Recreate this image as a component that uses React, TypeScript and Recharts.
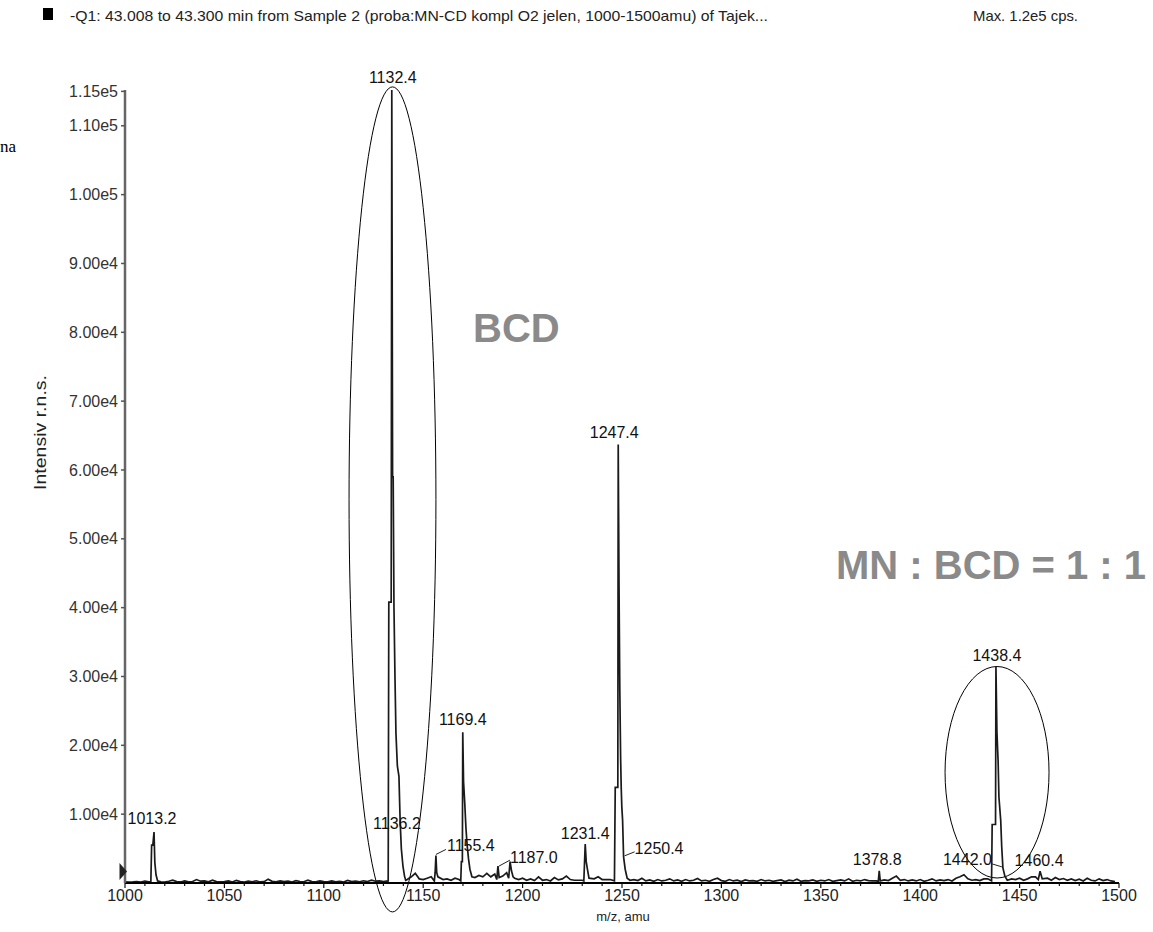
import React from "react";
import {
  LineChart,
  Line,
  XAxis,
  YAxis,
  ReferenceArea,
  ReferenceDot,
} from "recharts";

// baseline noise, one value every 2 amu from 1000 to 1500 (cps)
const noiseStart = 1000;
const noiseStep = 2;
const noise = [
  180, 120, 150, 200, 140, 260, 160, 300, 220, 180, 120, 250, 400, 200, 150, 300, 180, 220, 500, 260, 300, 180, 420, 200, 160,
  220, 300, 150, 380, 200, 140, 260, 180, 320, 150, 200, 560, 240, 180, 300, 200, 260, 150, 340, 220, 180, 420, 200, 160, 300,
  200, 160, 300, 180, 240, 150, 380, 200, 260, 180, 320, 220, 400, 260, 300, 200, 500, 300, 260, 400, 600, 500, 900, 1400, 600,
  500, 700, 900, 600, 1200, 500, 600, 400, 700, 500, 600, 600, 500, 800, 1100, 900, 1400, 900, 1300, 900, 1000, 1500, 1500, 700,
  500, 700, 400, 600, 350, 900, 400, 500, 300, 800, 450, 600, 1000, 500, 400, 400, 400, 700, 500, 600, 900, 500, 500, 500, 500,
  500, 500, 600, 400, 500, 350, 700, 300, 450, 250, 500, 300, 400, 600, 300, 450, 250, 500, 300, 400, 650, 300, 400, 250, 500,
  700, 350, 250, 500, 300, 400, 200, 450, 300, 350, 250, 500, 300, 400, 250, 350, 450, 200, 400, 300, 550, 250, 350, 300, 450,
  250, 400, 300, 500, 250, 350, 450, 300, 600, 250, 400, 300, 500, 350, 300, 300, 300, 450, 350, 700, 1000, 400, 500, 300, 450,
  300, 500, 250, 400, 600, 300, 450, 350, 500, 300, 700, 900, 1200, 600, 400, 500, 350, 600, 600, 600, 600, 600, 600, 800, 600,
  500, 700, 400, 600, 900, 900, 1000, 500, 700, 400, 800, 500, 650, 400, 600, 350, 550, 300, 700, 400, 300, 600, 350, 500, 300,
  200,
];

// peak profiles [m/z, intensity]
const peak1013 = [[1013.0, 200], [1013.4, 5500], [1014.0, 5500], [1014.6, 7400], [1015.0, 3000], [1015.6, 1200], [1016.4, 300]];
const peak1132 = [
  [1132.4, 300], [1132.7, 40800], [1133.9, 40800], [1134.2, 115200], [1134.6, 59000], [1134.9, 59000],
  [1135.3, 40000], [1135.8, 30000], [1136.3, 21700], [1137.0, 17000], [1137.8, 15500], [1138.4, 9000],
  [1139.0, 5000], [1139.8, 2500], [1140.6, 1000], [1141.2, 400],
];
const peak1155 = [[1155.6, 300], [1156.0, 1500], [1156.4, 4000], [1156.8, 1500], [1157.4, 900]];
const peak1169 = [
  [1168.9, 300], [1169.2, 3100], [1169.7, 3100], [1169.9, 21900], [1170.3, 14700], [1170.9, 11600],
  [1171.5, 8000], [1172.1, 5500], [1172.8, 3500], [1173.5, 2000], [1174.5, 900],
];
const peak1187 = [[1187.0, 500], [1187.6, 2450], [1188.2, 800]];
const peak1193 = [[1193.0, 700], [1193.7, 3100], [1194.4, 1800], [1195.2, 900]];
const peak1231 = [[1230.8, 300], [1231.5, 5650], [1232.0, 3100], [1232.6, 2000], [1233.4, 700]];
const peak1247 = [
  [1246.2, 300], [1246.6, 13900], [1247.9, 13900], [1248.1, 63700], [1248.5, 43200], [1248.9, 28000],
  [1249.3, 18300], [1249.6, 13900], [1249.9, 11100], [1250.3, 9100], [1250.8, 3800], [1251.6, 2000], [1252.6, 700],
];
const peak1379 = [[1378.9, 200], [1379.4, 1780], [1379.9, 300]];
const peak1438 = [
  [1435.9, 300], [1436.2, 8500], [1437.9, 8500], [1438.1, 31400], [1438.6, 21900], [1439.2, 17600],
  [1439.6, 12500], [1440.5, 9100], [1441.0, 5300], [1441.6, 2200], [1442.6, 1000], [1443.8, 400],
];
const peak1460 = [[1459.4, 500], [1460.0, 1300], [1460.3, 1700], [1460.8, 1200], [1461.4, 600]];

// peak labels: anchor (m/z, intensity) and text
const annotations = [
  { mz: 1134.2, i: 115200, text: "1132.4" },
  { mz: 1248.1, i: 63700, text: "1247.4" },
  { mz: 1169.9, i: 21900, text: "1169.4" },
  { mz: 1438.1, i: 31400, text: "1438.4" },
  { mz: 1014.6, i: 7400, text: "1013.2" },
  { mz: 1136.8, i: 6800, text: "1136.2" },
  { mz: 1156.4, i: 4000, text: "1155.4" },
  { mz: 1187.6, i: 2450, text: "1187.0" },
  { mz: 1231.5, i: 5650, text: "1231.4" },
  { mz: 1250.8, i: 3800, text: "1250.4" },
  { mz: 1379.4, i: 1780, text: "1378.8" },
  { mz: 1441.6, i: 2200, text: "1442.0" },
  { mz: 1460.3, i: 1700, text: "1460.4" },
];

// circled regions (m/z range, intensity range)
const circles = [
  { x1: 1112.7, x2: 1156.4, y1: -4200, y2: 115650 },
  { x1: 1412.5, x2: 1464.8, y1: 725, y2: 31450 },
];

const yTicks = [10000, 20000, 30000, 40000, 50000, 60000, 70000, 80000, 90000, 100000, 110000, 115000];
const xTicks = Array.from({ length: 51 }, (_, k) => 1000 + k * 10);

// label placement (pixels relative to anchor)
const labelLayout: Record<string, { dx: number; dy: number; anchor?: string; leader?: number[] }> = {
  "1132.4": { dx: 1, dy: -13 },
  "1247.4": { dx: -4, dy: -12 },
  "1169.4": { dx: 0, dy: -13 },
  "1438.4": { dx: 1, dy: -11 },
  "1013.2": { dx: -2, dy: -14 },
  "1136.2": { dx: 0, dy: -13 },
  "1155.4": { dx: 11, dy: -10, anchor: "start", leader: [0, -1, 10, -6] },
  "1187.0": { dx: 12, dy: -9, anchor: "start", leader: [1, 0, 12, -6] },
  "1231.4": { dx: 0, dy: -11 },
  "1250.4": { dx: 11, dy: -8, anchor: "start", leader: [1, -1, 11, -5] },
  "1378.8": { dx: -2, dy: -11 },
  "1442.0": { dx: -11, dy: -8, anchor: "end", leader: [-1, -1, -11, -4] },
  "1460.4": { dx: -1, dy: -11 },
};

const FONT = "'Liberation Sans', Arial, sans-serif";

const peaks = [peak1013, peak1132, peak1155, peak1169, peak1187, peak1193, peak1231, peak1247, peak1379, peak1438, peak1460];
const windows = peaks.map((p) => [p[0][0], p[p.length - 1][0]]);
const spectrum = [
  ...noise
    .map((v, k) => [noiseStart + k * noiseStep, v])
    .filter(([m]) => !windows.some(([a, b]) => m >= a - 0.6 && m <= b + 0.6)),
  ...peaks.flat(),
]
  .sort((a, b) => a[0] - b[0])
  .map(([mz, i]) => ({ mz, i }));

const fmtY = (v: number) => v.toExponential(2).replace("e+", "e");

const XTick = (props: any) => {
  const { x, y, payload } = props;
  const v = payload.value;
  const major = v % 50 === 0;
  return (
    <g>
      <line x1={x} x2={x} y1={y} y2={y + (major ? 5 : 3)} stroke="#111" strokeWidth={1.2} />
      {major && (
        <text x={x} y={y + 18} textAnchor="middle" fontSize={16} fill="#222" fontFamily={FONT}>
          {v}
        </text>
      )}
    </g>
  );
};

const PeakLabel = (text: string) => (props: any) => {
  const { cx, cy } = props;
  const l = labelLayout[text];
  return (
    <g>
      {l.leader && (
        <line
          x1={cx + l.leader[0]}
          y1={cy + l.leader[1]}
          x2={cx + l.leader[2]}
          y2={cy + l.leader[3]}
          stroke="#222"
          strokeWidth={1}
        />
      )}
      <text
        x={cx + l.dx}
        y={cy + l.dy}
        textAnchor={l.anchor || "middle"}
        dominantBaseline="central"
        fontSize={16}
        fill="#111"
        fontFamily={FONT}
      >
        {text}
      </text>
    </g>
  );
};

const Ellipse = (props: any) => {
  const { x, y, width, height } = props;
  return (
    <ellipse
      cx={x + width / 2}
      cy={y + height / 2}
      rx={Math.abs(width) / 2}
      ry={Math.abs(height) / 2}
      fill="none"
      stroke="#000"
      strokeWidth={1}
    />
  );
};

export default function App() {
  return (
    <div style={{ position: "absolute", left: 0, top: 0, width: 1153, height: 932, background: "#fff" }}>
      <LineChart
        width={1153}
        height={932}
        data={spectrum}
        margin={{ top: 90, right: 34, bottom: 10, left: 60 }}
      >
        <XAxis
          type="number"
          dataKey="mz"
          domain={[1000, 1500]}
          ticks={xTicks}
          interval={0}
          tick={<XTick />}
          tickLine={false}
          tickSize={0}
          tickMargin={0}
          height={39}
          axisLine={{ stroke: "#000", strokeWidth: 2 }}
        />
        <YAxis
          type="number"
          domain={[0, 115000]}
          ticks={yTicks}
          interval={0}
          tickFormatter={fmtY}
          width={65}
          tickSize={4}
          tickMargin={3}
          tick={{ fontSize: 16, fill: "#333", fontFamily: FONT }}
          tickLine={{ stroke: "#555", strokeWidth: 1.5 }}
          axisLine={{ stroke: "#666", strokeWidth: 2.5 }}
        />
        <Line
          type="linear"
          dataKey="i"
          stroke="#1a1a1a"
          strokeWidth={1.7}
          dot={false}
          isAnimationActive={false}
        />
        {circles.map((c, k) => (
          <ReferenceArea
            key={k}
            x1={c.x1}
            x2={c.x2}
            y1={c.y1}
            y2={c.y2}
            ifOverflow="visible"
            shape={<Ellipse />}
          />
        ))}
        {annotations.map((a) => (
          <ReferenceDot
            key={a.text}
            x={a.mz}
            y={a.i}
            r={0}
            ifOverflow="visible"
            shape={PeakLabel(a.text)}
          />
        ))}
      </LineChart>
      <svg
        width={1153}
        height={932}
        style={{ position: "absolute", left: 0, top: 0, pointerEvents: "none" }}
      >
        <rect x={43} y={8} width={10} height={12} fill="#000" />
        <text x={70} y={21} fontSize={15} fill="#222" fontFamily={FONT} textLength={698} lengthAdjust="spacingAndGlyphs">
          -Q1: 43.008 to 43.300 min from Sample 2 (proba:MN-CD kompl O2 jelen, 1000-1500amu) of Tajek...
        </text>
        <text x={973} y={21} fontSize={15} fill="#222" fontFamily={FONT} textLength={105} lengthAdjust="spacingAndGlyphs">
          Max. 1.2e5 cps.
        </text>
        <text x={0} y={152} fontSize={17} fill="#000" fontFamily="'Liberation Serif', serif">
          na
        </text>
        <text
          transform="translate(46,432.5) rotate(-90)"
          textAnchor="middle"
          fontSize={16}
          fill="#222"
          fontFamily={FONT}
          textLength={115}
          lengthAdjust="spacingAndGlyphs"
        >
          Intensiv r.n.s.
        </text>
        <text x={623} y={921} textAnchor="middle" fontSize={13} fill="#222" fontFamily={FONT}>
          m/z, amu
        </text>
        <text x={473} y={342} fontSize={40} fontWeight="bold" fill="#8a8a8a" fontFamily={FONT}>
          BCD
        </text>
        <text x={836} y={579} fontSize={40} fontWeight="bold" fill="#8a8a8a" fontFamily={FONT}>
          MN : BCD = 1 : 1
        </text>
        <polygon points="119.5,863 127,871.5 119.5,880" fill="#222" />
      </svg>
    </div>
  );
}
